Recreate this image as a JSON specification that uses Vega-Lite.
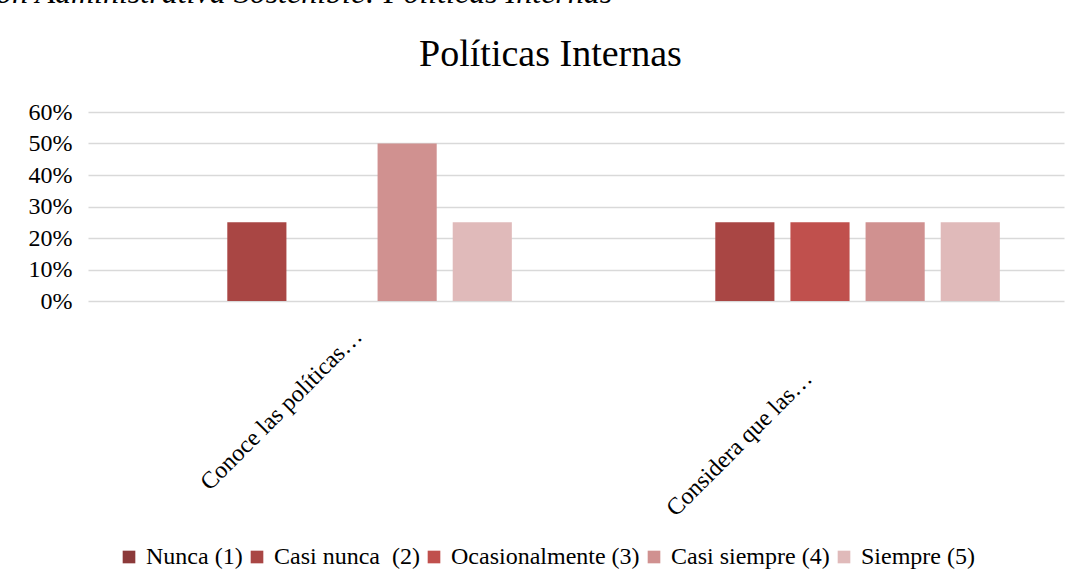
{
  "$schema": "https://vega.github.io/schema/vega-lite/v6.json",
  "autosize": "none",
  "width": 976,
  "height": 189,
  "padding": {"left": 88, "top": 112, "right": 15, "bottom": 287},
  "background": "white",
  "config": {
    "view": {"stroke": null},
    "font": "Liberation Serif"
  },
  "title": {
    "text": "ón Administrativa Sostenible: Políticas Internas",
    "font": "Liberation Serif",
    "fontSize": 32,
    "fontStyle": "italic",
    "fontWeight": "normal",
    "color": "#000000",
    "anchor": "start",
    "frame": "bounds",
    "baseline": "alphabetic",
    "dx": -32,
    "offset": 0
  },
  "data": {
    "values": [
      {"pregunta": "Conoce las políticas…", "respuesta": "Nunca (1)", "valor": 0},
      {"pregunta": "Conoce las políticas…", "respuesta": "Casi nunca \u00a0(2)", "valor": 0.25},
      {"pregunta": "Conoce las políticas…", "respuesta": "Ocasionalmente (3)", "valor": 0},
      {"pregunta": "Conoce las políticas…", "respuesta": "Casi siempre (4)", "valor": 0.5},
      {"pregunta": "Conoce las políticas…", "respuesta": "Siempre (5)", "valor": 0.25},
      {"pregunta": "Considera que las…", "respuesta": "Nunca (1)", "valor": 0},
      {"pregunta": "Considera que las…", "respuesta": "Casi nunca \u00a0(2)", "valor": 0.25},
      {"pregunta": "Considera que las…", "respuesta": "Ocasionalmente (3)", "valor": 0.25},
      {"pregunta": "Considera que las…", "respuesta": "Casi siempre (4)", "valor": 0.25},
      {"pregunta": "Considera que las…", "respuesta": "Siempre (5)", "valor": 0.25}
    ]
  },
  "mark": {"type": "bar"},
  "encoding": {
    "x": {
      "field": "pregunta",
      "type": "nominal",
      "sort": null,
      "scale": {"paddingInner": 0.23, "paddingOuter": 0.115},
      "axis": {
        "title": null,
        "domain": false,
        "ticks": false,
        "labelAngle": -45,
        "labelFont": "Liberation Serif",
        "labelFontSize": 24,
        "labelColor": "#000000",
        "labelLimit": 400,
        "labelOffset": {"condition": {"test": "datum.value == 'Conoce las políticas…'", "value": 18}, "value": -20},
        "labelPadding": {"condition": {"test": "datum.value == 'Conoce las políticas…'", "value": 23}, "value": 65}
      }
    },
    "xOffset": {
      "field": "respuesta",
      "type": "nominal",
      "sort": null,
      "scale": {
        "domain": ["Nunca (1)", "Casi nunca \u00a0(2)", "Ocasionalmente (3)", "Casi siempre (4)", "Siempre (5)"],
        "paddingInner": 0.213,
        "paddingOuter": 0.107
      }
    },
    "y": {
      "field": "valor",
      "type": "quantitative",
      "scale": {"domain": [0, 0.6]},
      "axis": {
        "title": "Políticas Internas",
        "titleFont": "Liberation Serif",
        "titleFontSize": 38,
        "titleFontWeight": "normal",
        "titleColor": "#000000",
        "titleAngle": 0,
        "titleAlign": "center",
        "titleBaseline": "alphabetic",
        "titleX": 462,
        "titleY": -47,
        "values": [0, 0.1, 0.2, 0.3, 0.4, 0.5, 0.6],
        "format": ".0%",
        "domain": false,
        "ticks": false,
        "labelFont": "Liberation Serif",
        "labelFontSize": 24,
        "labelColor": "#000000",
        "labelPadding": 16,
        "gridColor": "#d9d9d9",
        "gridWidth": 1.5
      }
    },
    "color": {
      "field": "respuesta",
      "type": "nominal",
      "scale": {
        "domain": ["Nunca (1)", "Casi nunca \u00a0(2)", "Ocasionalmente (3)", "Casi siempre (4)", "Siempre (5)"],
        "range": ["#8c3a3a", "#a94644", "#c0504d", "#d09190", "#e0baba"]
      },
      "legend": {
        "title": null,
        "orient": "none",
        "legendX": 29,
        "legendY": 433,
        "direction": "horizontal",
        "symbolType": "square",
        "symbolSize": 160,
        "symbolStrokeWidth": 0,
        "labelFont": "Liberation Serif",
        "labelFontSize": 24,
        "labelColor": "#000000",
        "labelOffset": 5,
        "columnPadding": 2,
        "labelLimit": 400
      }
    }
  }
}
